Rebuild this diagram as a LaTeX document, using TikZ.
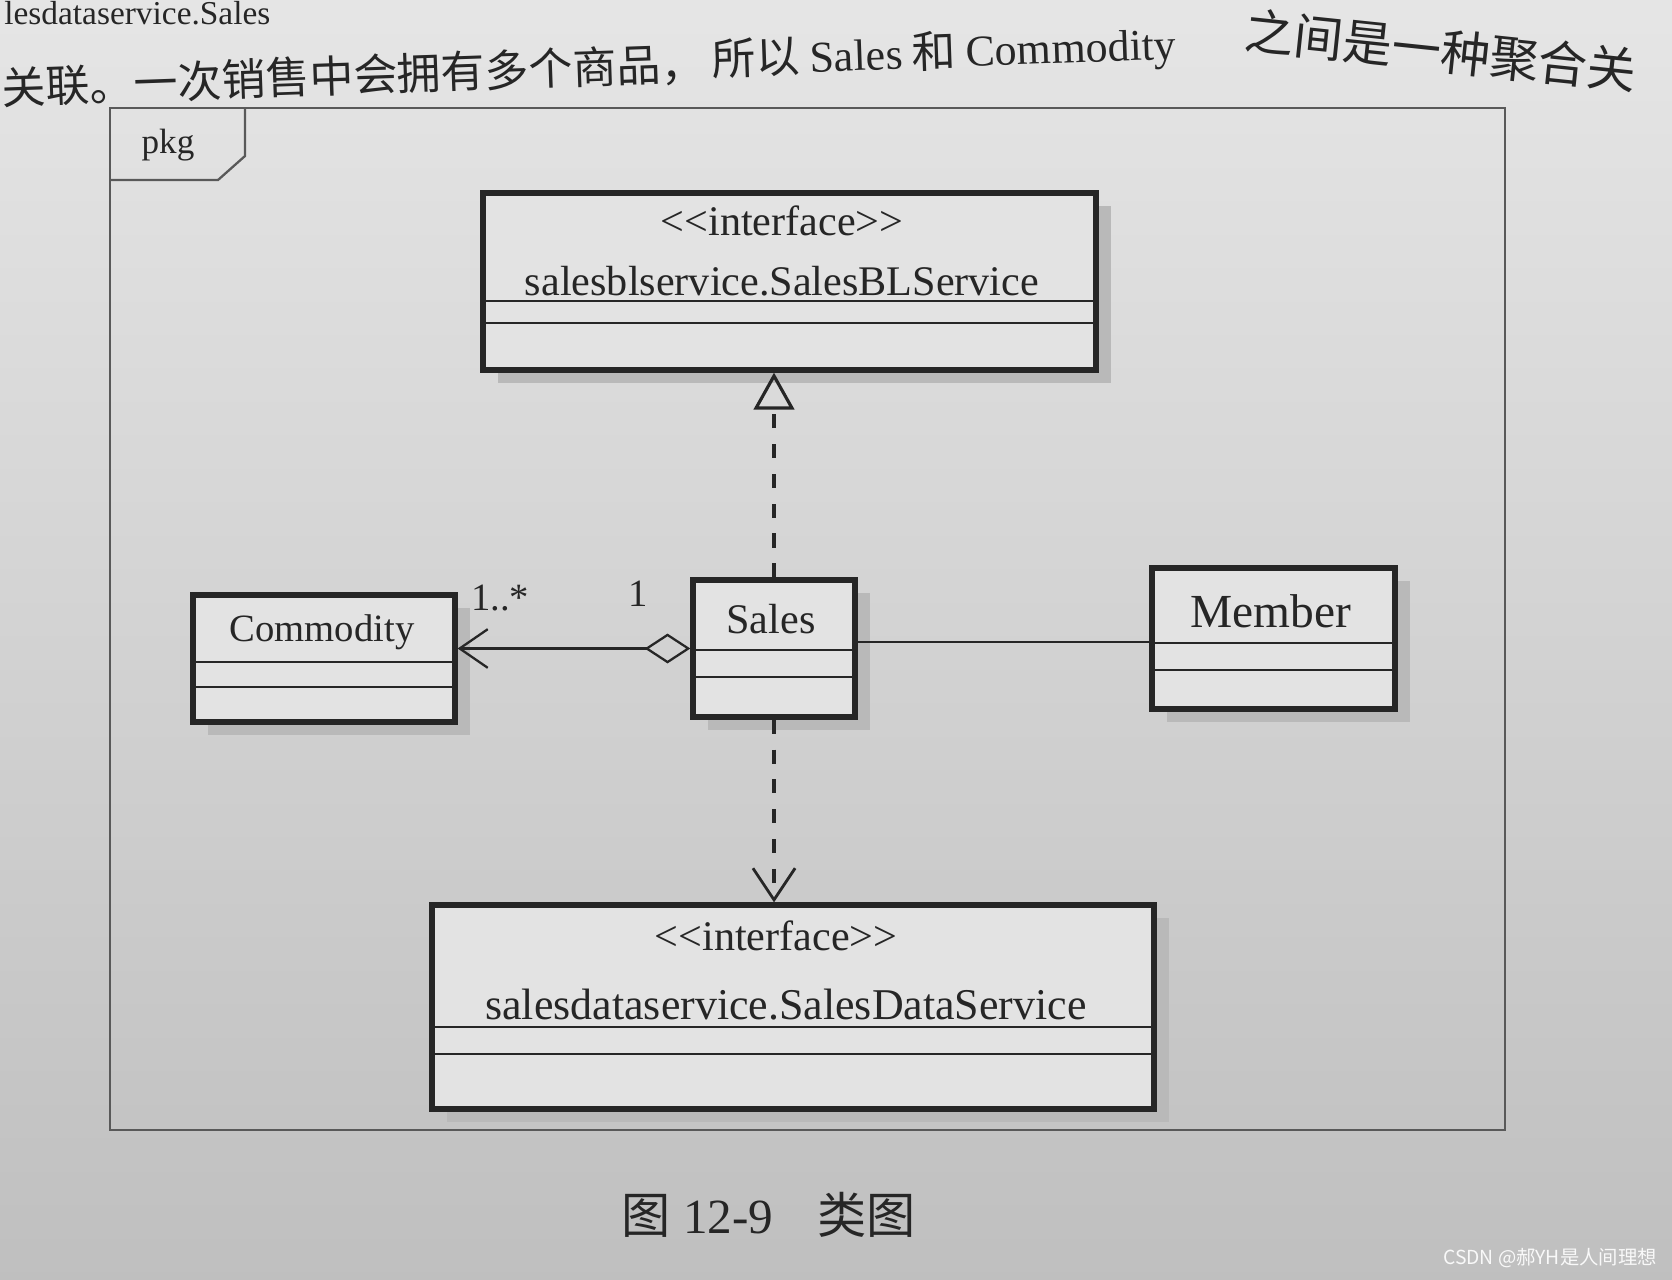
\documentclass[tikz,border=0pt]{standalone}
\usepackage{fontspec}
\setmainfont{Liberation Serif}
\newfontfamily\cjk{Noto Sans CJK SC}
\usetikzlibrary{arrows.meta,fit}
\begin{document}
\begin{tikzpicture}[x=0.02cm,y=-0.02cm,
  box/.style={draw=black!85, line width=3pt, fill=gray!22, inner sep=0pt},
  sep/.style={draw=black!85, line width=1.5pt},
  shd/.style={fill=gray!55},
  txt/.style={text=black!85, inner sep=0pt},
  conn/.style={draw=black!85, line width=1.3pt},
  dsh/.style={draw=black!85, line width=1.8pt, dash pattern=on 8pt off 9pt},
  framec/.style={draw=black!65, line width=1.3pt},
]
\useasboundingbox (0,0) rectangle (1672,1280);
\shade[top color=gray!20, bottom color=gray!50] (0,0) rectangle (1672,1280);

% page text at the top
\node[txt, anchor=north west, font=\fontsize{19}{22}\selectfont] (prev) at (4,1) {lesdataservice.Sales};
\node[txt, anchor=west, rotate=2, font=\cjk\fontsize{25}{29}\selectfont] (para) at (2,88)
  {关联。一次销售中会拥有多个商品，};
\node[txt, anchor=west, rotate=2, font=\cjk\fontsize{25}{29}\selectfont] (parab) at (712,62)
  {所以 {\rmfamily Sales} 和 {\rmfamily Commodity}};
\node[txt, anchor=west, rotate=-6, font=\cjk\fontsize{28}{32}\selectfont] (para2) at (1245,30) {之间是一种聚合关};

% package frame
\draw[framec] (110,108) rectangle (1505,1130);
\draw[framec] (110,180) -- (218,180) -- (245,156) -- (245,108);
\node[txt, font=\fontsize{20}{24}\selectfont] (pkg) at (168,145) {pkg};

% shadows
\fill[shd] (498,206) rectangle (1111,383);
\fill[shd] (208,608) rectangle (470,735);
\fill[shd] (708,593) rectangle (870,730);
\fill[shd] (1167,581) rectangle (1410,722);
\fill[shd] (447,918) rectangle (1169,1122);

% SalesBLService
\node[box, fit={(483,193)(1096,370)}] (bl) {};
\draw[sep] (483,301) -- (1096,301);
\draw[sep] (483,323) -- (1096,323);
\node[txt, font=\fontsize{24}{28}\selectfont] (blst) at (782,221) {<{}<interface>{}>};
\node[txt, font=\fontsize{24}{28}\selectfont] (blname) at (782,281) {salesblservice.SalesBLService};

% Commodity
\node[box, fit={(193,595)(455,722)}] (com) {};
\draw[sep] (193,662) -- (455,662);
\draw[sep] (193,687) -- (455,687);
\node[txt, font=\fontsize{22}{26}\selectfont] (comname) at (322,632) {Commodity};

% Sales
\node[box, fit={(693,580)(855,717)}] (sales) {};
\draw[sep] (693,650) -- (855,650);
\draw[sep] (693,677) -- (855,677);
\node[txt, font=\fontsize{24}{28}\selectfont] (salesname) at (771,619) {Sales};

% Member
\node[box, fit={(1152,568)(1395,709)}] (mem) {};
\draw[sep] (1152,643) -- (1395,643);
\draw[sep] (1152,670) -- (1395,670);
\node[txt, font=\fontsize{27}{31}\selectfont] (memname) at (1271,611) {Member};

% SalesDataService
\node[box, fit={(432,905)(1154,1109)}] (sds) {};
\draw[sep] (432,1027) -- (1154,1027);
\draw[sep] (432,1054) -- (1154,1054);
\node[txt, font=\fontsize{24}{28}\selectfont] (sdsst) at (776,936) {<{}<interface>{}>};
\node[txt, font=\fontsize{25}{29}\selectfont] (sdsname) at (786,1005) {salesdataservice.SalesDataService};

% connectors
\draw[dsh, -{Triangle[open, length=21pt, width=23pt, line width=1.8pt]}] (sales.north) -- (sales.north |- bl.south);
\draw[dsh, -{Straight Barb[length=18pt, width=24pt, line width=1.6pt]}] (sales.south) -- (sales.south |- sds.north);
\draw[conn, {Diamond[open, length=26pt, width=17pt]}-{Straight Barb[length=16pt, width=22pt]}] (sales.west) -- (sales.west -| com.east);
\path ([yshift=3.5pt]sales.east) coordinate (assocS);
\draw[conn] (assocS) -- (assocS -| mem.west);

\node[txt, font=\fontsize{22}{26}\selectfont] (mult1) at (500,598) {1..*};
\node[txt, font=\fontsize{22}{26}\selectfont] (mult2) at (638,594) {1};

% caption
\node[txt, font=\fontsize{28}{32}\selectfont] (cap) at (769,1215) {{\cjk 图} 12-9\hspace{0.9em}{\cjk 类图}};

% watermark
\node[anchor=east, inner sep=0pt, font=\cjk\fontsize{11}{13}\selectfont, text=gray!5] (wm) at (1657,1258) {CSDN @郝YH是人间理想};
\end{tikzpicture}
\end{document}
